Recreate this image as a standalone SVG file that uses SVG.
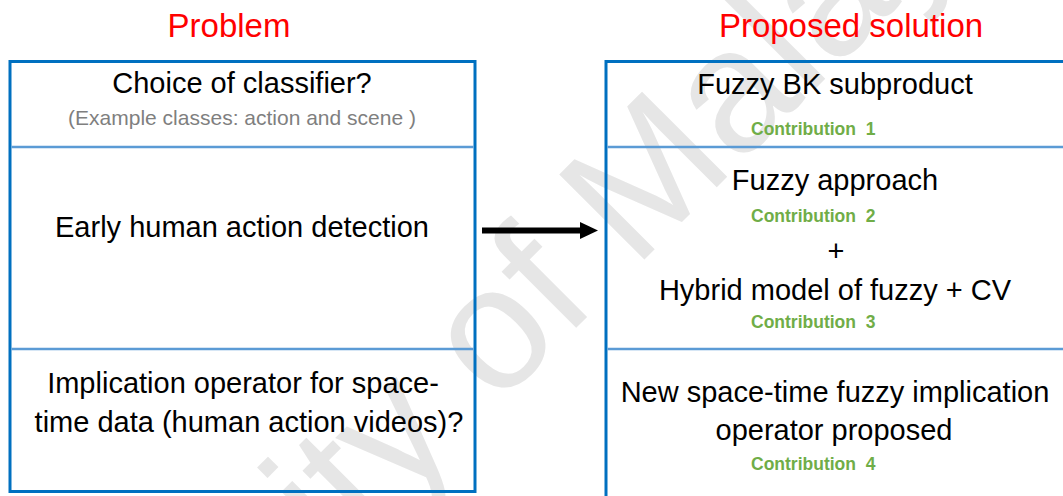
<svg xmlns="http://www.w3.org/2000/svg" width="1063" height="496" viewBox="0 0 1063 496">
<style>
text{font-family:"Liberation Sans",Arial,sans-serif;}
.title{font-size:33px;fill:#ff0000;text-anchor:middle}
.body{font-size:29px;fill:#000;text-anchor:middle}
.sub{font-size:21px;fill:#7f7f7f;text-anchor:middle}
.contrib{font-size:17.5px;font-weight:bold;fill:#70ad47}
.frame{fill:none;stroke:#0070c0;stroke-width:3}
.divider{stroke:#5b9bd5;stroke-width:2.5}
.wm{font-size:175px;fill:#e6e6e6;text-anchor:middle}
.conn{stroke:#000;stroke-width:6;fill:none}
</style>
<defs>
<marker id="ah" markerUnits="userSpaceOnUse" markerWidth="18" markerHeight="17" refX="0" refY="8" orient="auto" viewBox="0 0 17 16"><path d="M0,0 L17,8 L0,16 Z" fill="#000"/></marker>
</defs>
<rect width="1063" height="496" fill="#fff"/>
<g id="watermark"><text class="wm" transform="translate(476,428) rotate(-45)">University of Malaya</text></g>
<text class="title" x="229" y="37">Problem</text>
<text class="title" x="851" y="37">Proposed solution</text>
<g id="problem">
<rect class="frame" x="10" y="61.5" width="465" height="430"/>
<line class="divider" x1="11.5" y1="147" x2="473.5" y2="147"/>
<line class="divider" x1="11.5" y1="349" x2="473.5" y2="349"/>
<g id="p1"><text class="body" x="242" y="93">Choice of classifier?</text>
<text class="sub" x="242" y="125">(Example classes: action and scene )</text></g>
<g id="p2"><text class="body" x="242" y="237">Early human action detection</text></g>
<g id="p3"><text class="body" x="243" y="393">Implication operator for space-</text>
<text class="body" x="249" y="432">time data (human action videos)?</text></g>
</g>
<g id="solution">
<rect class="frame" x="606" y="61.5" width="520" height="480"/>
<line class="divider" x1="607.5" y1="147" x2="1063" y2="147"/>
<line class="divider" x1="607.5" y1="349" x2="1063" y2="349"/>
<g id="s1"><text class="body" x="835" y="94">Fuzzy BK subproduct</text>
<text class="contrib" x="751" y="135" xml:space="preserve">Contribution  1</text></g>
<g id="s2"><text class="body" x="835" y="190">Fuzzy approach</text>
<text class="contrib" x="751" y="222" xml:space="preserve">Contribution  2</text>
<text class="body" x="836" y="261">+</text>
<text class="body" x="835" y="300">Hybrid model of fuzzy + CV</text>
<text class="contrib" x="751" y="328" xml:space="preserve">Contribution  3</text></g>
<g id="s3"><text class="body" x="835" y="402">New space-time fuzzy implication</text>
<text class="body" x="834" y="440">operator proposed</text>
<text class="contrib" x="751" y="470" xml:space="preserve">Contribution  4</text></g>
</g>
<g id="connectors"><line class="conn" x1="482" y1="230.5" x2="580" y2="230.5" marker-end="url(#ah)"/></g>
</svg>
